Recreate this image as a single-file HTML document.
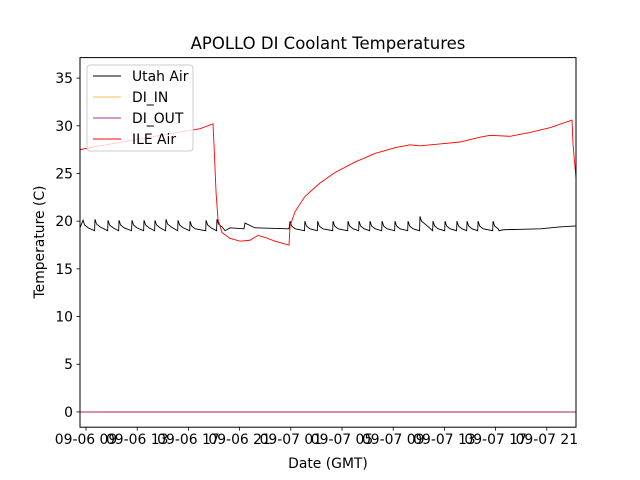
<!DOCTYPE html>
<html><head><meta charset="utf-8"><style>
body{margin:0;background:#fff;}
svg{display:block;font-family:"DejaVu Sans","Liberation Sans",sans-serif;}
</style></head><body>
<svg id="chart" width="640" height="480" viewBox="0 0 640 480">
<rect width="640" height="480" fill="#fff"/>
<text x="328" y="49" font-size="16.5" text-anchor="middle">APOLLO DI Coolant Temperatures</text>
<g id="plot"></g>
</svg>
<script>
// ---- data ----
const xTickHours=[9,13,17,21,25,29,33,37,41,45];
const xTickLabels=["09-06 09","09-06 13","09-06 17","09-06 21","09-07 01","09-07 05","09-07 09","09-07 13","09-07 17","09-07 21"];
const yTicks=[0,5,10,15,20,25,30,35];
const utahPeakHours=[8.77,9.70,10.72,11.58,12.59,13.53,14.39,15.25,16.19,17.13,18.38,19.23];
const utahPeakVals=[20.1,20.2,20.1,20.1,20.1,20.1,20.1,20.2,20.1,20.0,20.1,20.2];
const utahFlat1Hours=[20.25,21.34,21.42,22.2,23.5,24.86];
const utahFlat1Vals=[19.3,19.2,19.8,19.3,19.25,19.2];
const utahPeak2Hours=[24.94,26.1,27.1,28.30,29.47,30.33,31.19,32.13,33.14,34.16,35.09,36.11,37.05,37.98,38.77,39.63,40.80];
const utahPeak2Vals=[20.0,20.0,20.0,20.0,20.0,20.0,20.0,20.0,20.0,20.0,20.5,20.0,20.0,20.0,20.0,20.0,20.0];
const utahTailHours=[41.6,43.0,44.5,46.0,47.3];
const utahTailVals=[19.1,19.15,19.2,19.4,19.5];
const ileHours=[8.53,10.09,14.0,17.91,18.92,19.0,19.16,19.31,19.63,20.25,21.03,21.81,22.44,22.98,23.77,24.86,24.94,25.33,26.11,27.28,28.45,30.02,31.58,33.14,34.31,35.09,36.66,38.22,39.78,40.56,42.13,43.69,45.25,46.97,47.05,47.28];
const ileVals=[27.5,27.9,28.8,29.7,30.2,28.0,23.0,20.2,18.8,18.2,17.9,18.0,18.5,18.3,17.9,17.5,19.5,21.0,22.6,24.0,25.1,26.2,27.1,27.7,28.0,27.9,28.1,28.3,28.8,29.0,28.9,29.3,29.8,30.6,28.0,24.5];
const diInHours=[8.53,47.28];
const diInVals=[0,0];
const diOutHours=[8.53,47.28];
const diOutVals=[0,0];

// ---- axes ----
const L=80,R=576,T=57.6,B=427.2;
const hMin=8.53,hMax=47.28,vMin=-1.6,vMax=37.15;
const xs=h=>L+(h-hMin)/(hMax-hMin)*(R-L);
const ys=v=>B-(v-vMin)/(vMax-vMin)*(B-T);
const NS="http://www.w3.org/2000/svg";
const g=document.getElementById('plot');
function mk(tag,attrs,parent){const e=document.createElementNS(NS,tag);for(const k in attrs)e.setAttribute(k,attrs[k]);(parent||g).appendChild(e);return e;}
function poly(hs,vs){return hs.map((h,i)=>xs(h).toFixed(2)+','+ys(vs[i]).toFixed(2)).join(' ');}

let uh=[],uv=[];
function saw(ph,pv,endH){
  for(let i=0;i<ph.length;i++){
    const next=i<ph.length-1?ph[i+1]:endH;
    uh.push(ph[i]);uv.push(pv[i]);
    uh.push(ph[i]+0.12);uv.push(pv[i]-0.5);
    uh.push(ph[i]+0.4);uv.push(pv[i]-0.8);
    uh.push(next-0.03);uv.push(19.0);
  }
}
uh.push(8.53);uv.push(19.3);
saw(utahPeakHours,utahPeakVals,19.9);
utahFlat1Hours.forEach((h,i)=>{uh.push(h);uv.push(utahFlat1Vals[i]);});
saw(utahPeak2Hours,utahPeak2Vals,41.3);
utahTailHours.forEach((h,i)=>{uh.push(h);uv.push(utahTailVals[i]);});

const clip=mk('clipPath',{id:'pc'});
mk('rect',{x:L,y:T,width:R-L,height:B-T},clip);

let s=mk('polyline',{points:poly(uh,uv),fill:'none',stroke:'#000','stroke-width':0.9,'clip-path':'url(#pc)'});


s=mk('polyline',{points:poly(diInHours,diInVals),fill:'none',stroke:'#ffbb55','stroke-width':1,'clip-path':'url(#pc)'});


s=mk('polyline',{points:poly(diOutHours,diOutVals),fill:'none',stroke:'#a8205a','stroke-width':1,'clip-path':'url(#pc)'});


s=mk('polyline',{points:poly(ileHours,ileVals),fill:'none',stroke:'#ff0000','stroke-width':0.9,'clip-path':'url(#pc)'});



let f=mk('rect',{x:L,y:T,width:R-L,height:B-T,fill:'none',stroke:'#000','stroke-width':1});



xTickHours.forEach((h,i)=>{
  const x=xs(h);
  mk('line',{x1:x,x2:x,y1:B,y2:B+3.5,stroke:'#000','stroke-width':0.8});
  const t=mk('text',{x:x,y:B+17,'font-size':13.9,'text-anchor':'middle'});
  t.textContent=xTickLabels[i];
  
  
});
yTicks.forEach(v=>{
  const y=ys(v);
  mk('line',{x1:L-3.5,x2:L,y1:y,y2:y,stroke:'#000','stroke-width':0.8});
  const t=mk('text',{x:L-7,y:y+5,'font-size':13.9,'text-anchor':'end'});
  t.textContent=v;
  
  
});
let xt=mk('text',{x:328,y:468,'font-size':13.9,'text-anchor':'middle'});
xt.textContent='Date (GMT)';


let yt=mk('text',{x:44,y:242,'font-size':13.9,'text-anchor':'middle',transform:'rotate(-90 44 242)'});
yt.textContent='Temperature (C)';



const lg=mk('g',{});


mk('rect',{x:87,y:65,width:106,height:86,rx:3,fill:'#fff','fill-opacity':0.8,stroke:'#ccc','stroke-width':1},lg);
const legNames=['Utah Air','DI_IN','DI_OUT','ILE Air'];
const legCols=['#000','#ffbb55','#aa3399','#ff0000'];
legNames.forEach((n,i)=>{
  const y=76+i*21;
  mk('line',{x1:93,x2:121,y1:y,y2:y,stroke:legCols[i],'stroke-width':0.9},lg);
  const t=mk('text',{x:132,y:y+5,'font-size':13.9},lg);
  t.textContent=n;
  
  
});
</script>
</body></html>
